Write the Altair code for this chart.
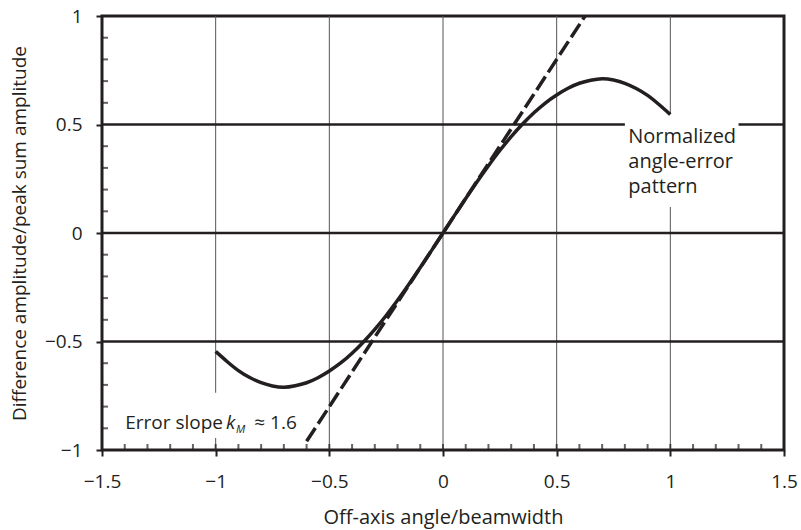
import altair as alt
import pandas as pd

INK = "#231f20"
FONT = "Open Sans"

# ---- data ----
angle = [-1.0, -0.95, -0.9, -0.85, -0.8, -0.75, -0.7, -0.65, -0.6, -0.55, -0.5,
         -0.45, -0.4, -0.35, -0.3, -0.25, -0.2, -0.15, -0.1, -0.05, 0.0,
         0.05, 0.1, 0.15, 0.2, 0.25, 0.3, 0.35, 0.4, 0.45, 0.5,
         0.55, 0.6, 0.65, 0.7, 0.75, 0.8, 0.85, 0.9, 0.95, 1.0]
pattern = [-0.546, -0.592, -0.634, -0.666, -0.690, -0.705, -0.711, -0.704, -0.690, -0.667, -0.636,
           -0.599, -0.554, -0.502, -0.444, -0.380, -0.310, -0.236, -0.159, -0.080, 0.0,
           0.080, 0.159, 0.236, 0.310, 0.380, 0.444, 0.502, 0.554, 0.599, 0.636,
           0.667, 0.690, 0.704, 0.711, 0.705, 0.690, 0.666, 0.634, 0.592, 0.546]

slope_angle = [-0.6, 0.625]
slope_value = [-0.96, 1.0]

x_major = [-1.5, -1.0, -0.5, 0.0, 0.5, 1.0, 1.5]
y_major = [-1.0, -0.5, 0.0, 0.5, 1.0]
x_grid = [-1.0, -0.5, 0.0, 0.5, 1.0]
y_lines = [-0.5, 0.0, 0.5]
x_minor = [-1.4, -1.3, -1.2, -1.1, -0.9, -0.8, -0.7, -0.6, -0.4, -0.3, -0.2, -0.1,
           0.1, 0.2, 0.3, 0.4, 0.6, 0.7, 0.8, 0.9, 1.1, 1.2, 1.3, 1.4]
y_minor = [-0.9, -0.8, -0.7, -0.6, -0.4, -0.3, -0.2, -0.1,
           0.1, 0.2, 0.3, 0.4, 0.6, 0.7, 0.8, 0.9]

curve_df = pd.DataFrame({"x": angle, "y": pattern})
slope_df = pd.DataFrame({"x": slope_angle, "y": slope_value})
xgrid_df = pd.DataFrame({"x": x_grid})
ylines_df = pd.DataFrame({"y": y_lines})
xminor_df = pd.DataFrame({"x": x_minor})
yminor_df = pd.DataFrame({"y": y_minor})
xmajor_df = pd.DataFrame({"x": x_grid})
one_df = pd.DataFrame({"k": [0]})

xs = alt.Scale(domain=[-1.5, 1.5], nice=False, zero=False)
ys = alt.Scale(domain=[-1, 1], nice=False, zero=False)

x_axis = alt.Axis(
    values=x_major, format="~g", title="Off-axis angle/beamwidth", grid=False, domain=False,
    tickSize=6, tickWidth=2, tickColor=INK,
    labelFontSize=19, labelColor=INK, labelPadding=31, labelBaseline="alphabetic",
    labelFlush=False, labelOverlap=False,
    labelExpr="replace(datum.label, '-', '\u2212')",
    titleFontSize=20, titleFontWeight="normal", titleColor=INK,
    titleX=341, titleY=73, titleBaseline="alphabetic",
)
y_axis = alt.Axis(
    values=y_major, format="~g", title="Difference amplitude/peak sum amplitude", grid=False, domain=False,
    tickSize=6, tickWidth=2, tickColor=INK,
    labelFontSize=19, labelColor=INK, labelPadding=14, labelFlush=False, labelOverlap=False,
    labelExpr="replace(datum.label, '-', '\u2212')",
    titleFontSize=19, titleFontWeight="normal", titleColor=INK,
    titleX=-77, titleY=217, titleAngle=270, titleBaseline="alphabetic", titleAlign="center",
)

def X(field=None, datum=None):
    if datum is not None:
        return alt.X(datum=datum, type="quantitative", scale=xs, axis=x_axis)
    return alt.X(field, type="quantitative", scale=xs, axis=x_axis)

def Y(field=None, datum=None):
    if datum is not None:
        return alt.Y(datum=datum, type="quantitative", scale=ys, axis=y_axis)
    return alt.Y(field, type="quantitative", scale=ys, axis=y_axis)

vgrid = alt.Chart(xgrid_df).mark_rule(color="#555555", strokeWidth=1).encode(x=X("x"))
hlines = alt.Chart(ylines_df).mark_rule(color=INK, strokeWidth=2.5).encode(y=Y("y"))

box_norm = alt.Chart(one_df).mark_rect(color="white").encode(
    x=X(datum=0.8), x2=alt.X2(datum=1.3), y=Y(datum=0.55), y2=alt.Y2(datum=0.12)
)
box_err = alt.Chart(one_df).mark_rect(color="white").encode(
    x=X(datum=-1.43), x2=alt.X2(datum=-0.61), y=Y(datum=-0.736), y2=alt.Y2(datum=-0.945)
)

yminor_ticks = alt.Chart(yminor_df).mark_tick(
    orient="horizontal", size=6, thickness=2, color=INK, xOffset=3
).encode(y=Y("y"), x=X(datum=-1.5))
xminor_ticks = alt.Chart(xminor_df).mark_tick(
    orient="vertical", size=6, thickness=2, color=INK, yOffset=-3
).encode(x=X("x"), y=Y(datum=-1))
xmajor_ticks = alt.Chart(xmajor_df).mark_tick(
    orient="vertical", size=6, thickness=2, color=INK, yOffset=-3
).encode(x=X("x"), y=Y(datum=-1))

curve = alt.Chart(curve_df).mark_line(
    color=INK, strokeWidth=3.5, interpolate="natural"
).encode(x=X("x"), y=Y("y"))
slope = alt.Chart(slope_df).mark_line(
    color=INK, strokeWidth=3.5, strokeDash=[16, 5]
).encode(x=X("x"), y=Y("y"))

label_norm = alt.Chart(one_df).mark_text(
    align="left", baseline="alphabetic", fontSize=20, lineHeight=25, color=INK
).encode(x=X(datum=0.815), y=Y(datum=0.413),
         text=alt.value(["Normalized", "angle-error", "pattern"]))

t1 = alt.Chart(one_df).mark_text(
    align="left", baseline="alphabetic", fontSize=19, color=INK
).encode(x=X(datum=-1.398), y=Y(datum=-0.905), text=alt.value("Error slope"))
t2 = alt.Chart(one_df).mark_text(
    align="left", baseline="alphabetic", fontSize=19, fontStyle="italic", color=INK
).encode(x=X(datum=-0.955), y=Y(datum=-0.905), text=alt.value("k"))
t3 = alt.Chart(one_df).mark_text(
    align="left", baseline="alphabetic", fontSize=11, fontStyle="italic", color=INK
).encode(x=X(datum=-0.911), y=Y(datum=-0.922), text=alt.value("M"))
t4 = alt.Chart(one_df).mark_text(
    align="left", baseline="alphabetic", fontSize=19, color=INK
).encode(x=X(datum=-0.83), y=Y(datum=-0.905), text=alt.value("\u2248 1.6"))

chart = alt.layer(
    vgrid, hlines, box_norm, box_err, yminor_ticks, xminor_ticks, xmajor_ticks,
    curve, slope, label_norm, t1, t2, t3, t4
).properties(
    width=682, height=434, autosize="none",
    padding={"left": 102, "top": 16, "right": 17, "bottom": 80},
    background="white",
).configure(font=FONT).configure_view(stroke=INK, strokeWidth=3)

chart.save("out.html", embed_options={"renderer": "svg", "actions": False})
